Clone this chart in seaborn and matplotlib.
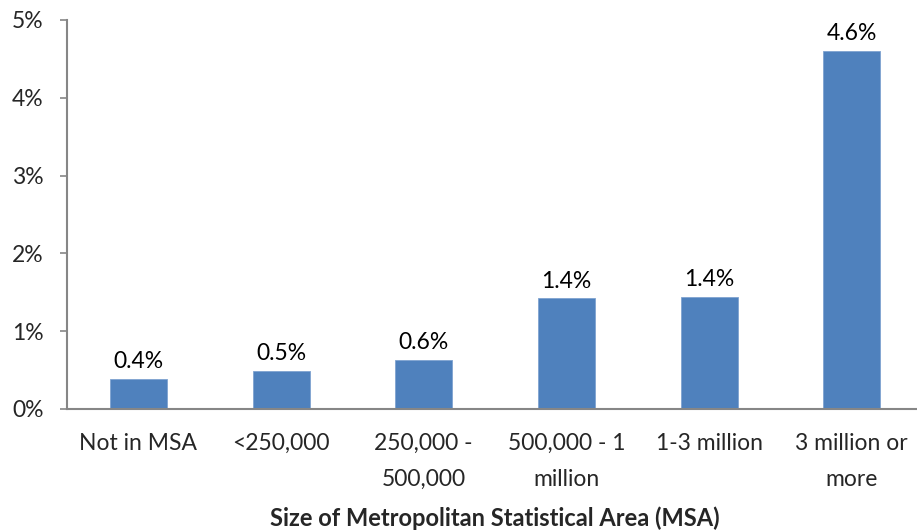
import matplotlib
matplotlib.use("Agg")
import matplotlib.pyplot as plt
import seaborn as sns
import pandas as pd

# Share of workers by size of metropolitan area
categories = ["Not in MSA", "<250,000", "250,000 -\n500,000", "500,000 - 1\nmillion",
              "1-3 million", "3 million or\nmore"]
shares = [0.38, 0.49, 0.63, 1.42, 1.44, 4.60]
y_ticks = [0, 1, 2, 3, 4, 5]
x_title = "Size of Metropolitan Statistical Area (MSA)"

sns.set_style("white")
plt.rcParams["font.family"] = ["Lato", "DejaVu Sans"]

df = pd.DataFrame({"cat": categories, "share": shares})

fig = plt.figure(figsize=(9.17, 5.31), dpi=100)
ax = fig.add_axes([0.0731, 0.2298, 0.9335, 0.7326])

sns.barplot(data=df, x="cat", y="share", ax=ax, color="#4F81BD", saturation=1,
            width=0.40, edgecolor="#7FA3D0", linewidth=0.6)

fs = 16.5
for i, v in enumerate(shares):
    ax.annotate(f"{v:.1f}%", (i, v), xytext=(0, 5), textcoords="offset points",
                ha="center", va="bottom", fontsize=fs, color="black")

axis_grey = "#868686"
ax.set_xlim(-0.5, len(categories) - 0.5)
ax.set_ylim(0, 5)
ax.set_yticks(y_ticks)
ax.set_yticklabels([f"{t}%" for t in y_ticks], fontsize=fs)

# category labels sit between boundary tick marks
ax.set_xticks(range(len(categories)))
ax.set_xticklabels(categories, fontsize=fs, linespacing=1.9, va="top")
ax.tick_params(axis="x", length=0, pad=17)
ax.set_xticks([i - 0.5 for i in range(len(categories) + 1)], minor=True)
ax.tick_params(axis="x", which="minor", length=5, width=1.2, color=axis_grey, direction="out")
ax.tick_params(axis="y", length=5, width=1.2, color=axis_grey, direction="out", pad=12, left=True)

for side in ["top", "right"]:
    ax.spines[side].set_visible(False)
for side in ["left", "bottom"]:
    ax.spines[side].set_color(axis_grey)
    ax.spines[side].set_linewidth(1.5)

ax.set_ylabel("")
ax.set_xlabel(x_title, fontsize=17, fontweight="bold", labelpad=12)

fig.savefig("out.png", dpi=100)
